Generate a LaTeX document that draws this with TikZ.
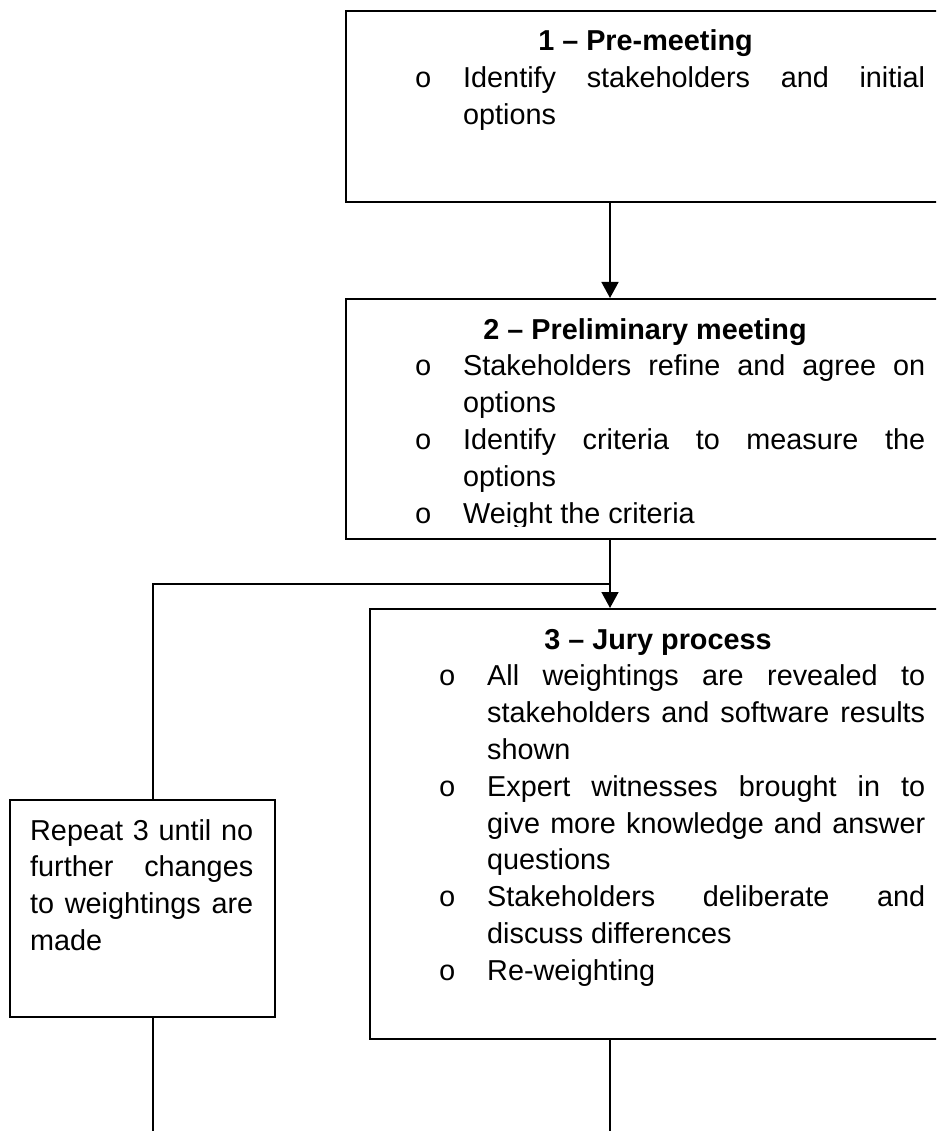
\documentclass[tikz,border=0pt]{standalone}
\usepackage{fontspec}
\setmainfont{Liberation Sans}
\newfontfamily\bulletfont{Liberation Mono}
\usetikzlibrary{arrows.meta}
\newcommand{\bul}{\makebox[40pt][c]{\bulletfont\fontsize{28.8}{36.8}\selectfont o}\hspace*{20pt}}
\newcommand{\ind}{\hspace*{60pt}}
\newcommand{\jl}[2]{\makebox[#1][s]{#2}}
\begin{document}
\begin{tikzpicture}[x=1pt,y=-1pt,
  box/.style={draw=black,line width=1.8pt,inner sep=0pt,anchor=north west,fill=none},
  conn/.style={line width=1.6pt,draw=black},
  arr/.style={conn,-{Triangle[width=17pt,length=16pt]}},
  ttl/.style={anchor=base,inner sep=0pt,font=\fontsize{28.8}{36.8}\selectfont\bfseries},
  body/.style={anchor=base west,inner sep=0pt,font=\fontsize{28.8}{36.8}\selectfont},
]
\useasboundingbox (0,0) rectangle (936,1131);
\clip (0,0) rectangle (936,1131);

% boxes
\node[box,minimum width=600pt,minimum height=191pt] (b1) at (345,10) {};
\node[box,minimum width=600pt,minimum height=240pt] (b2) at (345,298) {};
\node[box,minimum width=576pt,minimum height=430pt] (b3) at (369,608) {};
\node[box,line width=1.6pt,minimum width=265pt,minimum height=217pt] (rep) at (9,799) {};

% box 1 text
\node[ttl] (t1) at (645.5,51) {1 -- Pre-meeting};
\node[body] (x1) at (403,87.8) {\parbox[t]{522pt}{%
\bul\jl{462pt}{Identify stakeholders and initial}\\
\ind options}};

% box 2 text
\node[ttl] (t2) at (645,339) {2 -- Preliminary meeting};
\begin{scope}
\clip (345,298) rectangle (945,526.5);
\node[body] (x2) at (403,375.8) {\parbox[t]{522pt}{%
\bul\jl{462pt}{Stakeholders refine and agree on}\\
\ind options\\
\bul\jl{462pt}{Identify criteria to measure the}\\
\ind options\\
\bul Weight the criteria}};
\end{scope}

% box 3 text
\node[ttl] (t3) at (658,649) {3 -- Jury process};
\node[body] (x3) at (427,685.8) {\parbox[t]{498pt}{%
\bul\jl{438pt}{All weightings are revealed to}\\
\ind\jl{438pt}{stakeholders and software results}\\
\ind shown\\
\bul\jl{438pt}{Expert witnesses brought in to}\\
\ind\jl{438pt}{give more knowledge and answer}\\
\ind questions\\
\bul\jl{438pt}{Stakeholders deliberate and}\\
\ind discuss differences\\
\bul Re-weighting}};

% repeat box text
\node[body] (xr) at (30,840) {\parbox[t]{223pt}{%
\jl{223pt}{Repeat 3 until no}\\
\jl{223pt}{further changes}\\
\jl{223pt}{to weightings are}\\
made}};

% connectors
\coordinate (ax) at (610,0);
\coordinate (lx) at (153,0);
\coordinate (jn) at (610,584);
\coordinate (e1) at (153,1131);
\coordinate (e2) at (610,1131);
\draw[arr] (b1.south -| ax) -- (b2.north -| ax);
\draw[arr] (b2.south -| ax) -- (b3.north -| ax);
\draw[conn] (rep.north -| lx) |- (jn);
\draw[conn] (rep.south -| lx) -- (e1);
\draw[conn] (b3.south -| ax) -- (e2);
\end{tikzpicture}
\end{document}
